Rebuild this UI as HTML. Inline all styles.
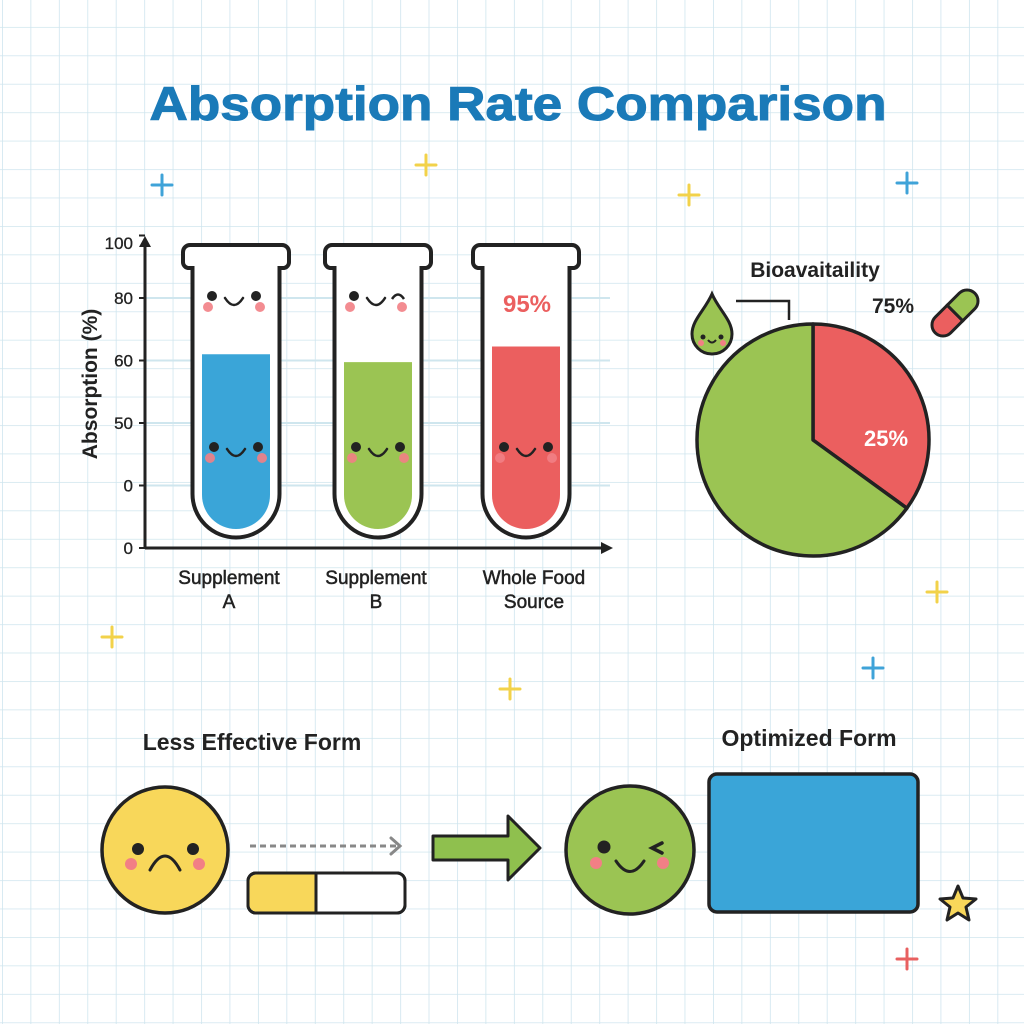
<!DOCTYPE html>
<html><head><meta charset="utf-8"><style>
html,body{margin:0;padding:0;background:#fff}
svg{display:block}
text{font-family:"Liberation Sans",sans-serif}
</style></head><body>
<svg id="s" width="1024" height="1024" viewBox="0 0 1024 1024">
<defs>
<pattern id="grid" x="2" y="-1.5" width="28.44" height="28.44" patternUnits="userSpaceOnUse">
<path d="M0 0H28.44M0 0V28.44" stroke="#cfe5ee" stroke-width="1.6" fill="none"/>
</pattern>
</defs>
<rect width="1024" height="1024" fill="#fff"/>
<rect width="1024" height="1024" fill="url(#grid)"/>
<text x="518" y="120" text-anchor="middle" font-size="47" font-weight="bold" fill="#1a7ab8" stroke="#1a7ab8" stroke-width="1" textLength="737" lengthAdjust="spacingAndGlyphs">Absorption Rate Comparison</text>
<g id="sparkles"></g>
<g id="bars"></g>
<g id="pie"></g>
<g id="bottom"></g>
</svg>
<script>
// Bar chart data
const categories = ["Supplement A", "Supplement B", "Whole Food Source"];
const absorptionValues = [62, 59.5, 64.5];
const tickValues = [0, 20, 40, 60, 80, 100];
const tickLabels = ["0", "0", "50", "60", "80", "100"];
// Pie data
const pieLabels = ["Whole food", "Supplement"];
const pieValues = [65, 35];

const NS = "http://www.w3.org/2000/svg";
function mk(tag, attrs, parent, txt) {
  const e = document.createElementNS(NS, tag);
  for (const k in attrs) e.setAttribute(k, attrs[k]);
  if (txt !== undefined) e.textContent = txt;
  parent.appendChild(e);
  return e;
}
const DK = "#222";

// sparkles
const sp = document.getElementById("sparkles");
[[162,185,"#3fa3d8"],[426,165,"#f2d24a"],[689,195,"#f2d24a"],[907,183,"#3fa3d8"],[937,592,"#f2d24a"],[112,637,"#f2d24a"],[873,668,"#3fa3d8"],[510,689,"#f2d24a"],[907,959,"#e86060"]].forEach(p => {
  const g = mk("path", {d:`M${p[0]-10} ${p[1]}H${p[0]+10}M${p[0]} ${p[1]-10}V${p[1]+10}`, stroke:p[2], "stroke-width":3, "stroke-linecap":"round"}, sp);
  
  
});

// axes
const bars = document.getElementById("bars");
const y0 = 548, unit = 62.5 / 20;
function yScale(v) { return y0 - v * unit; }
const xCenters = [236, 378, 526];
function xScale(i) { return xCenters[i]; }

tickValues.forEach((t, i) => {
  const y = yScale(t);
  if (i > 0 && i < tickValues.length - 1) {
    const gl = mk("line", {x1:145, x2:610, y1:y, y2:y, stroke:"#cfe6ee", "stroke-width":2}, bars);
    
    
  }
  const tk = mk("line", {x1:139, x2:145, y1:y, y2:y, stroke:DK, "stroke-width":2}, bars);
  
  
  const lb = mk("text", {x:133, y:Math.max(y, 243) + 6, "text-anchor":"end", "font-size":17, fill:DK, stroke:DK, "stroke-width":0.3}, bars, tickLabels[i]);
  
  
});
const ax = mk("path", {d:"M145 548V244M145 548H604", stroke:DK, "stroke-width":3, fill:"none"}, bars);


const ah = mk("path", {d:"M139 247L145 236L151 247ZM601 542L613 548L601 554Z", fill:DK}, bars);


const yt = mk("text", {x:0, y:0, transform:"translate(97,384) rotate(-90)", "text-anchor":"middle", "font-size":21, "font-weight":"bold", fill:DK}, bars, "Absorption (%)");



const fills = ["#3aa5d8", "#9bc453", "#eb5f5f"];
function face(g, cx, cy, wink) {
  mk("circle", {cx:cx-22, cy:cy, r:5, fill:DK}, g);
  if (wink) mk("path", {d:`M${cx+16} ${cy+3}Q${cx+22} ${cy-6} ${cx+28} ${cy+3}`, stroke:DK, "stroke-width":2.5, fill:"none"}, g);
  else mk("circle", {cx:cx+22, cy:cy, r:5, fill:DK}, g);
  mk("circle", {cx:cx-26, cy:cy+11, r:5, fill:"#f27f85", opacity:0.9}, g);
  mk("circle", {cx:cx+26, cy:cy+11, r:5, fill:"#f27f85", opacity:0.9}, g);
  mk("path", {d:`M${cx-9} ${cy+2}Q${cx} ${cy+16} ${cx+9} ${cy+2}`, stroke:DK, "stroke-width":2.5, fill:"none", "stroke-linecap":"round"}, g);
}
categories.forEach((c, i) => {
  const cx = xScale(i);
  const g = mk("g", {}, bars);
  
  
  const L = cx - 43.5, R = cx + 43.5;
  mk("path", {d:`M${L} 268V494A43.5 43.5 0 0 0 ${R} 494V268H${cx+48}A6 6 0 0 0 ${cx+53} 262V252A7 7 0 0 0 ${cx+46} 245H${cx-46}A7 7 0 0 0 ${cx-53} 252V262A6 6 0 0 0 ${cx-48} 268Z`, fill:"#fff", stroke:DK, "stroke-width":4}, g);
  const top = yScale(absorptionValues[i]);
  const fl = mk("path", {d:`M${cx-34} ${top}V495A34 34 0 0 0 ${cx+34} 495V${top}Z`, fill:fills[i]}, g);
  
  
  face(g, cx, 447, false);
  if (i < 2) face(g, cx - 2, 296, i === 1);
  const words = i === 2 ? ["Whole Food", "Source"] : ["Supplement", i === 0 ? "A" : "B"];
  const lx = [229, 376, 534][i];
  const t1 = mk("text", {x:lx, y:584, "text-anchor":"middle", "font-size":19, fill:DK, stroke:DK, "stroke-width":0.5}, bars, words[0]);
  
  
  const t2 = mk("text", {x:lx, y:608, "text-anchor":"middle", "font-size":19, fill:DK, stroke:DK, "stroke-width":0.5}, bars, words[1]);
  
  
});
const p95 = mk("text", {x:527, y:312, "text-anchor":"middle", "font-size":24, "font-weight":"bold", fill:"#eb5f5f"}, bars, "95%");



// pie
const pie = document.getElementById("pie");
const pcx = 813, pcy = 440, pr = 116;
const total = pieValues.reduce((a, b) => a + b, 0);
const pieColors = ["#9bc453", "#eb5f5f"];
let start = 0;
[1, 0].forEach(idx => {
  const a0 = start / total * 2 * Math.PI, a1 = (start + pieValues[idx]) / total * 2 * Math.PI;
  start += pieValues[idx];
  const x0 = pcx + pr * Math.sin(a0), y0p = pcy - pr * Math.cos(a0);
  const x1 = pcx + pr * Math.sin(a1), y1 = pcy - pr * Math.cos(a1);
  const large = (a1 - a0) > Math.PI ? 1 : 0;
  const sl = mk("path", {d:`M${pcx} ${pcy}L${x0} ${y0p}A${pr} ${pr} 0 ${large} 1 ${x1} ${y1}Z`, fill:pieColors[idx], stroke:DK, "stroke-width":3.5, "stroke-linejoin":"round"}, pie);
  
  
});
const pt = mk("text", {x:815, y:277, "text-anchor":"middle", "font-size":21, "font-weight":"bold", fill:DK}, pie, "Bioavaitaility");


const l75 = mk("text", {x:893, y:313, "text-anchor":"middle", "font-size":21, "font-weight":"bold", fill:DK}, pie, "75%");


const l25 = mk("text", {x:886, y:446, "text-anchor":"middle", "font-size":22, "font-weight":"bold", fill:"#fff"}, pie, "25%");


const ld = mk("path", {d:"M736 301H789V320", stroke:DK, "stroke-width":2.5, fill:"none"}, pie);


const drop = mk("g", {}, pie);


mk("path", {d:"M712 294C705 310 692 320 692 334A20 20 0 0 0 732 334C732 320 719 310 712 294Z", fill:"#9bc453", stroke:DK, "stroke-width":3}, drop);
mk("circle", {cx:703, cy:337, r:2.5, fill:DK}, drop);
mk("circle", {cx:721, cy:337, r:2.5, fill:DK}, drop);
mk("circle", {cx:701, cy:343, r:3, fill:"#f27f85"}, drop);
mk("circle", {cx:723, cy:343, r:3, fill:"#f27f85"}, drop);
mk("path", {d:"M708 340Q712 345 716 340", stroke:DK, "stroke-width":2, fill:"none"}, drop);
const pill = mk("g", {transform:"translate(955,313) rotate(-45)"}, pie);


mk("path", {d:"M0 -11H-17A11 11 0 0 0 -17 11H0Z", fill:"#eb5f5f", stroke:DK, "stroke-width":3}, pill);
mk("path", {d:"M0 -11H17A11 11 0 0 1 17 11H0Z", fill:"#9bc453", stroke:DK, "stroke-width":3}, pill);

// bottom section
const bt = document.getElementById("bottom");
const lef = mk("text", {x:252, y:750, "text-anchor":"middle", "font-size":23, "font-weight":"bold", fill:DK}, bt, "Less Effective Form");


const opt = mk("text", {x:809, y:746, "text-anchor":"middle", "font-size":23, "font-weight":"bold", fill:DK}, bt, "Optimized Form");


const sad = mk("g", {}, bt);


mk("circle", {cx:165, cy:850, r:63, fill:"#f8d75a", stroke:DK, "stroke-width":3.5}, sad);
mk("circle", {cx:138, cy:849, r:6, fill:DK}, sad);
mk("circle", {cx:193, cy:849, r:6, fill:DK}, sad);
mk("circle", {cx:131, cy:864, r:6, fill:"#f27f85"}, sad);
mk("circle", {cx:199, cy:864, r:6, fill:"#f27f85"}, sad);
mk("path", {d:"M150 870Q165 842 180 870", stroke:DK, "stroke-width":3, fill:"none", "stroke-linecap":"round"}, sad);
const da = mk("path", {d:"M250 846H396", stroke:"#888", "stroke-width":3, "stroke-dasharray":"6 4", fill:"none"}, bt);


const dah = mk("path", {d:"M391 838L400 846L391 854", stroke:"#888", "stroke-width":3, fill:"none", "stroke-linecap":"round"}, bt);


const pb = mk("g", {}, bt);


mk("rect", {x:248, y:873, width:157, height:40, rx:8, fill:"#fff", stroke:DK, "stroke-width":3}, pb);
mk("path", {d:"M256 874.5H316V911.5H256A6.5 6.5 0 0 1 249.5 905V881A6.5 6.5 0 0 1 256 874.5Z", fill:"#f8d75a"}, pb);
mk("line", {x1:316, x2:316, y1:873, y2:913, stroke:DK, "stroke-width":3}, pb);
mk("rect", {x:248, y:873, width:157, height:40, rx:8, fill:"none", stroke:DK, "stroke-width":3}, pb);
const ga = mk("path", {d:"M433 836H508V816L540 848L508 880V860H433Z", fill:"#8fc04e", stroke:DK, "stroke-width":3, "stroke-linejoin":"round"}, bt);


const hap = mk("g", {}, bt);


mk("circle", {cx:630, cy:850, r:64, fill:"#9bc453", stroke:DK, "stroke-width":3.5}, hap);
mk("circle", {cx:604, cy:847, r:6.5, fill:DK}, hap);
mk("path", {d:"M662 843L652 848L662 853", stroke:DK, "stroke-width":3.5, fill:"none", "stroke-linecap":"round"}, hap);
mk("circle", {cx:596, cy:863, r:6, fill:"#f27f85"}, hap);
mk("circle", {cx:663, cy:863, r:6, fill:"#f27f85"}, hap);
mk("path", {d:"M616 861Q630 882 644 861", stroke:DK, "stroke-width":3, fill:"none", "stroke-linecap":"round"}, hap);
const br = mk("rect", {x:709, y:774, width:209, height:138, rx:8, fill:"#3aa5d8", stroke:DK, "stroke-width":3.5}, bt);


const star = mk("path", {d:"M958 886L963 898L976 899L966 907L969 920L958 913L947 920L950 907L940 899L953 898Z", fill:"#f8d75a", stroke:DK, "stroke-width":3, "stroke-linejoin":"round"}, bt);


</script>
</body></html>
